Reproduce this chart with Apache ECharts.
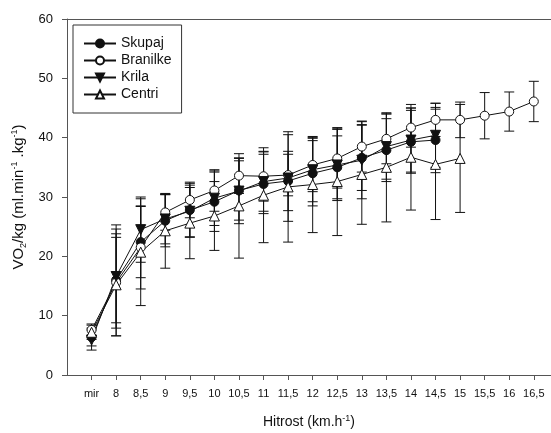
<!DOCTYPE html>
<html>
<head>
<meta charset="utf-8">
<script src="https://cdn.jsdelivr.net/npm/echarts@6/dist/echarts.min.js"></script>
<style>
  html, body { margin: 0; padding: 0; background: #fff; }
  #chart { width: 551px; height: 433px; }
</style>
</head>
<body>
<div id="chart"></div>
<script>
// hitrost (km/h), 'mir' = v mirovanju
const xLabels = ['mir', '8', '8,5', '9', '9,5', '10', '10,5', '11', '11,5', '12',
  '12,5', '13', '13,5', '14', '14,5', '15', '15,5', '16', '16,5']

const yTicks = [0, 10, 20, 30, 40, 50, 60]

// povprecja
const skupaj = [6.4, 16.0, 22.4, 26.0, 27.8, 29.2, 31.1, 32.2, 32.7, 34.0, 35.0, 36.6, 37.9, 39.3, 39.6]
const branilke = [7.6, 15.6, 21.5, 27.4, 29.5, 31.1, 33.6, 33.5, 33.7, 35.4, 36.5, 38.5, 39.8, 41.7, 43.0, 43.0, 43.7, 44.4, 46.1]
const krila = [5.9, 16.6, 24.5, 26.3, 27.6, 29.8, 31.0, 32.6, 33.2, 34.6, 35.4, 36.2, 38.5, 39.6, 40.4]
const centri = [7.2, 15.2, 20.7, 24.3, 25.6, 26.8, 28.5, 30.3, 31.7, 32.1, 32.6, 33.8, 35.0, 36.7, 35.5, 36.5]

// standardni odkloni
const skupajSd = [1.5, 7.2, 6.0, 4.4, 4.5, 5.0, 5.0, 5.0, 5.0, 5.5, 5.3, 5.5, 5.3, 5.3, 5.5]
const branilkeSd = [1.0, 9.0, 7.0, 3.0, 3.0, 3.5, 3.0, 4.2, 3.5, 4.5, 5.0, 4.3, 4.2, 3.3, 2.8, 3.0, 3.9, 3.3, 3.4]
const krilaSd = [1.7, 8.7, 5.5, 4.2, 4.4, 4.6, 5.5, 5.0, 7.3, 5.4, 6.0, 6.5, 5.5, 5.4, 5.4]
const centriSd = [1.2, 8.6, 9.0, 6.3, 6.0, 5.8, 8.8, 8.0, 9.3, 8.1, 9.1, 8.4, 9.2, 8.9, 9.3, 9.1]

const font = "'Liberation Sans', Arial, sans-serif"
const ink = '#111'

const toPoints = vals => vals.map((v, i) => [i, v])
const toErr = (vals, sd) => vals.map((v, i) => [i, v - sd[i], v + sd[i]])
const xTickValues = xLabels.map((_, i) => i)

// errorbar z ročicami
const renderErr = (params, api) => {
  const x = api.value(0)
  const lo = api.coord([x, api.value(1)])
  const hi = api.coord([x, api.value(2)])
  const w = 5
  const style = { stroke: ink, lineWidth: 1, fill: null }
  return {
    type: 'group',
    children: [
      { type: 'line', shape: { x1: lo[0], y1: lo[1], x2: hi[0], y2: hi[1] }, style },
      { type: 'line', shape: { x1: lo[0] - w, y1: lo[1], x2: lo[0] + w, y2: lo[1] }, style },
      { type: 'line', shape: { x1: hi[0] - w, y1: hi[1], x2: hi[0] + w, y2: hi[1] }, style }
    ]
  }
}

const errSeries = (name, vals, sd) => ({
  name: name + '_err',
  type: 'custom',
  renderItem: renderErr,
  data: toErr(vals, sd),
  encode: { x: 0, y: [1, 2] },
  z: 1,
  silent: true
})

const lineSeries = (name, vals, symbol, fill, rotate) => ({
  name,
  type: 'line',
  data: toPoints(vals),
  symbol,
  symbolSize: symbol === 'triangle' ? 10 : 9,
  symbolRotate: rotate || 0,
  showAllSymbol: true,
  lineStyle: { color: ink, width: 1 },
  itemStyle: { color: fill, borderColor: ink, borderWidth: 1 },
  z: 3
})

const axisGray = '#555'

const option = {
  animation: false,
  textStyle: { fontFamily: font },
  grid: { left: 67, top: 19, right: 0, bottom: 58, outerBoundsMode: 'none' },
  legend: {
    data: ['Skupaj', 'Branilke', 'Krila', 'Centri'],
    orient: 'vertical',
    left: 73,
    top: 25,
    padding: [11, 10, 11, 10],
    itemWidth: 32,
    itemHeight: 10,
    itemGap: 2,
    borderColor: '#333',
    borderWidth: 1,
    textStyle: { fontSize: 14, color: ink, lineHeight: 15, fontFamily: font }
  },
  xAxis: [{
    type: 'value',
    min: -1,
    max: 18.7,
    splitLine: { show: false },
    axisLine: { onZero: false, lineStyle: { color: axisGray, width: 1 } },
    axisTick: { length: 5, customValues: xTickValues, lineStyle: { color: axisGray } },
    axisLabel: {
      fontSize: 11,
      color: ink,
      margin: 13,
      customValues: xTickValues,
      formatter: v => xLabels[v] || ''
    },
    name: '{a|Hitrost (km.h}{sup|-1}{a|)}',
    nameLocation: 'middle',
    nameGap: 39,
    nameTextStyle: {
      rich: {
        a: { fontSize: 14, color: ink, lineHeight: 17, fontFamily: font },
        sup: { fontSize: 9, color: ink, lineHeight: 17, verticalAlign: 'top', fontFamily: font }
      }
    }
  }, {
    type: 'value',
    position: 'top',
    min: -1,
    max: 18.7,
    axisLine: { show: true, onZero: false, lineStyle: { color: axisGray, width: 1 } },
    axisTick: { show: false },
    axisLabel: { show: false },
    splitLine: { show: false }
  }],
  yAxis: {
    type: 'value',
    min: yTicks[0],
    max: yTicks[yTicks.length - 1],
    interval: 10,
    splitLine: { show: false },
    axisLine: { show: true, onZero: false, lineStyle: { color: axisGray, width: 1 } },
    axisTick: { show: true, length: 5, lineStyle: { color: axisGray } },
    axisLabel: { fontSize: 13, color: ink, margin: 14 },
    name: '{a|VO}{sub|2}{a|/kg (ml.min}{sup|-1}{a| .kg}{sup|-1}{a|)}',
    nameLocation: 'middle',
    nameRotate: 90,
    nameGap: 38,
    nameTextStyle: {
      rich: {
        a: { fontSize: 15, color: ink, lineHeight: 18, fontFamily: font },
        sub: { fontSize: 9, color: ink, lineHeight: 18, verticalAlign: 'bottom', fontFamily: font },
        sup: { fontSize: 9, color: ink, lineHeight: 18, verticalAlign: 'top', fontFamily: font }
      }
    }
  },
  series: [
    errSeries('Skupaj', skupaj, skupajSd),
    errSeries('Branilke', branilke, branilkeSd),
    errSeries('Krila', krila, krilaSd),
    errSeries('Centri', centri, centriSd),
    lineSeries('Skupaj', skupaj, 'circle', '#111'),
    lineSeries('Branilke', branilke, 'circle', '#fff'),
    lineSeries('Krila', krila, 'triangle', '#111', 180),
    lineSeries('Centri', centri, 'triangle', '#fff')
  ]
}

const myChart = echarts.init(document.getElementById('chart'), null, { renderer: 'canvas' })
myChart.setOption(option)
</script>
</body>
</html>
